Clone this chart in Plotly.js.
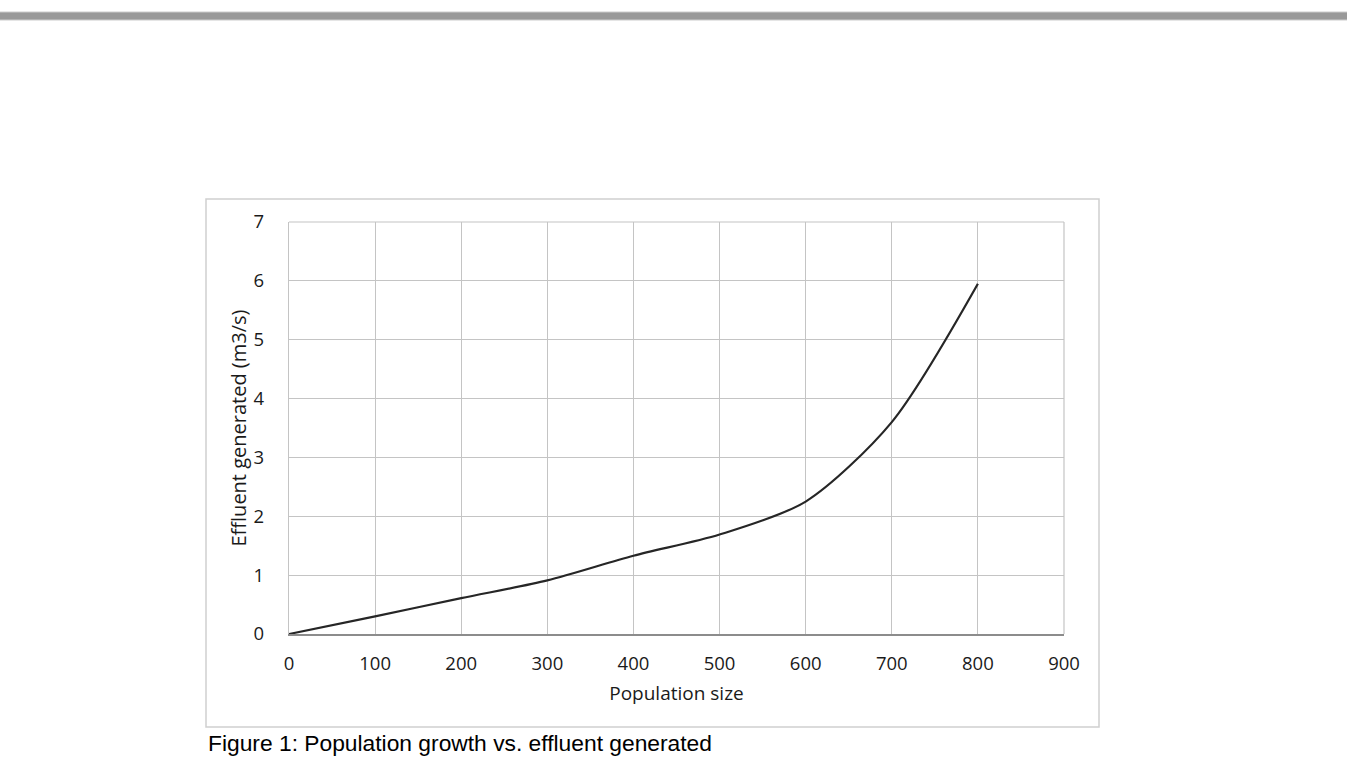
<!DOCTYPE html>
<html>
<head>
<meta charset="utf-8">
<script src="https://cdn.plot.ly/plotly-3.0.1.min.js"></script>
<style>html,body{margin:0;padding:0;background:#fff;}#chart{width:1347px;height:773px;}</style>
</head>
<body>
<div id="chart"></div>
<script>
const population = [0, 100, 200, 300, 400, 500, 600, 700, 800];
const effluent = [0, 0.30, 0.61, 0.91, 1.33, 1.69, 2.25, 3.6, 5.95];
const xTicks = [0, 100, 200, 300, 400, 500, 600, 700, 800, 900];
const yTicks = [0, 1, 2, 3, 4, 5, 6, 7];

const L = 289, R = 1064, T = 222, B = 634, W = 1347, H = 773;
const pw = R - L, ph = B - T;
const px = v => (v - L) / pw;
const py = v => (B - v) / ph;

const font = "'Open Sans', sans-serif";

Plotly.newPlot('chart', [{
  x: population, y: effluent, type: 'scatter', mode: 'lines',
  line: {color: '#262626', width: 2.2, shape: 'spline', smoothing: 0.8},
  hoverinfo: 'skip'
}], {
  width: W, height: H,
  margin: {l: L, r: W - R, t: T, b: H - B, pad: 0},
  paper_bgcolor: '#fff', plot_bgcolor: '#fff',
  showlegend: false,
  font: {family: font, color: '#1a1a1a', size: 18},
  xaxis: {
    range: [0, 900], tickvals: xTicks, ticktext: xTicks.map(String),
    showgrid: true, gridcolor: '#c4c4c4', gridwidth: 1.2,
    zeroline: false, showline: true, linecolor: '#8c8c8c', linewidth: 2,
    mirror: false, ticks: '', ticklabelstandoff: 12,
    tickfont: {family: font, size: 18.5, color: '#1a1a1a'},
    title: {text: 'Population size', font: {family: font, size: 19, color: '#1a1a1a'}, standoff: 12}
  },
  yaxis: {
    range: [0, 7], tickvals: yTicks, ticktext: yTicks.map(String),
    showgrid: true, gridcolor: '#c4c4c4', gridwidth: 1.2,
    zeroline: false, showline: true, linecolor: '#c4c4c4', linewidth: 1.2,
    ticks: '', ticklabelstandoff: 20,
    tickfont: {family: font, size: 18.5, color: '#1a1a1a'},
    title: {text: 'Effluent generated (m3/s)', font: {family: font, size: 20, color: '#1a1a1a'}, standoff: 1}
  },
  shapes: [
    {type: 'line', xref: 'paper', yref: 'paper', x0: px(1064), x1: px(1064), y0: py(634), y1: py(222), line: {color: '#c4c4c4', width: 1.2}},
    {type: 'line', xref: 'paper', yref: 'paper', x0: px(289), x1: px(1064), y0: py(222), y1: py(222), line: {color: '#c4c4c4', width: 1.2}},
    {type: 'rect', xref: 'paper', yref: 'paper', x0: px(206), x1: px(1099), y0: py(727), y1: py(199), line: {color: '#d0d0d0', width: 1.5}, fillcolor: 'rgba(0,0,0,0)', layer: 'below'},
    {type: 'rect', xref: 'paper', yref: 'paper', x0: px(0), x1: px(1347), y0: py(20), y1: py(12), line: {width: 0}, fillcolor: '#999999'},
    {type: 'line', xref: 'paper', yref: 'paper', x0: px(0), x1: px(1347), y0: py(12), y1: py(12), line: {color: '#cccccc', width: 1}},
    {type: 'line', xref: 'paper', yref: 'paper', x0: px(0), x1: px(1347), y0: py(20), y1: py(20), line: {color: '#cccccc', width: 1}}
  ],
  annotations: [{
    xref: 'paper', yref: 'paper', x: px(206), y: py(743), xanchor: 'left', yanchor: 'middle',
    text: 'Figure 1: Population growth vs. effluent generated', showarrow: false,
    font: {family: "Arial, 'Liberation Sans', sans-serif", size: 22.8, color: '#000'}
  }]
}, {displayModeBar: false, staticPlot: true});
</script>
</body>
</html>
